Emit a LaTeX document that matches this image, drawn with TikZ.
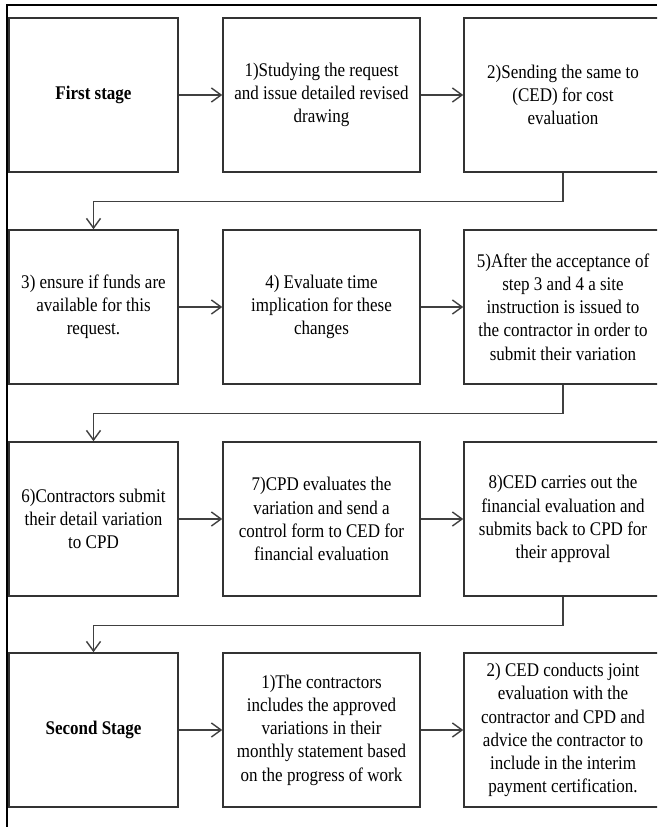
\documentclass[tikz,border=0pt]{standalone}
\usepackage{fontspec}
\setmainfont{Liberation Serif}[FakeStretch=0.88]
\usetikzlibrary{arrows.meta}

\begin{document}
\begin{tikzpicture}[x=0.02cm,y=-0.02cm,
  box/.style={draw=black!80,line width=0.9pt,inner sep=0pt,align=center,
    minimum height=3.08cm,font=\fontsize{11}{13.2}\selectfont},
  colA/.style={box,minimum width=3.38cm},
  colB/.style={box,minimum width=3.94cm},
  colC/.style={box,minimum width=3.96cm},
  arr/.style={draw=black!75,line width=0.8pt,-{Straight Barb[length=5.5pt,width=8pt]}}]%variation flow
\useasboundingbox (0,0) rectangle (657,827);
\clip (0,0) rectangle (657,827);
\draw[line width=0.9pt] (6,5) -- (657,5);
\draw[line width=1.5pt] (7,5) -- (7,827);
%first stage
\node[colA] (stage1) at (93.5,95) {\textbf{First stage}};
\node[colB] (s1) at (321.5,95) {1)Studying the request\\and issue detailed revised\\drawing};
\node[colC] (s2) at (563,95) {2)Sending the same to\\(CED) for cost\\evaluation};
\node[colA] (s3) at (93.5,307) {3) ensure if funds are\\available for this\\request.};
\node[colB] (s4) at (321.5,307) {4) Evaluate time\\implication for these\\changes};
\node[colC] (s5) at (563,307) {5)After the acceptance of\\step 3 and 4 a site\\instruction is issued to\\the contractor in order to\\submit their variation};
\node[colA] (s6) at (93.5,519) {6)Contractors submit\\their detail variation\\to CPD};
\node[colB] (s7) at (321.5,519) {7)CPD evaluates the\\variation and send a\\control form to CED for\\financial evaluation};
\node[colC] (s8) at (563,519) {8)CED carries out the\\financial evaluation and\\submits back to CPD for\\their approval};
%second stage
\node[colA] (stage2) at (93.5,730) {\textbf{Second Stage}};
\node[colB] (t1) at (321.5,730) {1)The contractors\\includes the approved\\variations in their\\monthly statement based\\on the progress of work};
\node[colC] (t2) at (563,730) {2) CED conducts joint\\evaluation with the\\contractor and CPD and\\advice the contractor to\\include in the interim\\payment certification.};
\foreach \a/\b in {stage1/s1,s1/s2,s3/s4,s4/s5,s6/s7,s7/s8,stage2/t1,t1/t2}
  \draw[arr] (\a) -- (\b);
\foreach \a/\b in {s2/s3,s5/s6,s8/stage2}
  \draw[arr] (\a.south) -- ++(0,29) -| (\b.north);
\end{tikzpicture}
\end{document}
